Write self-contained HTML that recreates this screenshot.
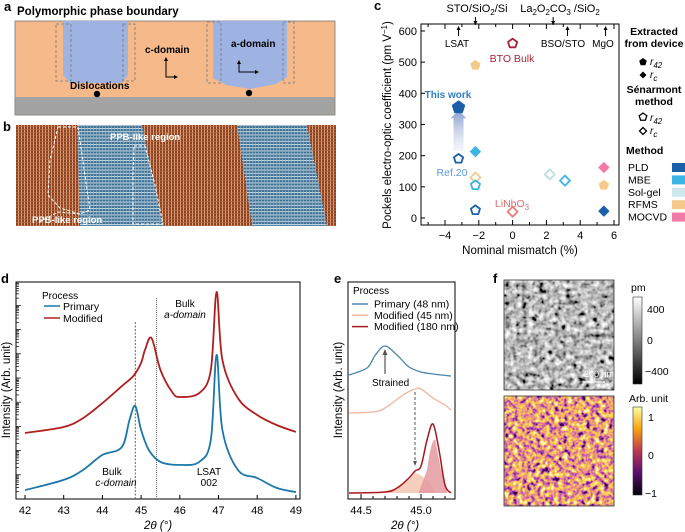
<!DOCTYPE html>
<html><head><meta charset="utf-8"><style>
html,body{margin:0;padding:0;background:#fff}
svg{display:block;font-family:"Liberation Sans",sans-serif}
</style></head><body>
<svg id="fig" width="685" height="532" viewBox="0 0 685 532">
<defs>
  <pattern id="brown" width="3" height="3" patternUnits="userSpaceOnUse"><rect width="3" height="3" fill="#8f4220"/><rect x="0" width="1" height="3" fill="#d9a07a"/><rect y="0" width="3" height="0.6" fill="#b8704a"/></pattern>
  <pattern id="blue" width="3" height="3.2" patternUnits="userSpaceOnUse"><rect width="3" height="3.2" fill="#3f7195"/><rect y="0" width="3" height="1" fill="#c8dbe6"/><rect x="0" width="0.6" height="3.2" fill="#9bb8c8"/></pattern>
  <linearGradient id="arrowgrad" x1="0" y1="1" x2="0" y2="0"><stop offset="0" stop-color="#c8d2ea" stop-opacity="0.2"/><stop offset="1" stop-color="#8a9ed0"/></linearGradient>
  <linearGradient id="graycb" x1="0" y1="0" x2="0" y2="1"><stop offset="0" stop-color="#fff"/><stop offset="1" stop-color="#000"/></linearGradient>
  <linearGradient id="infcb" x1="0" y1="0" x2="0" y2="1"><stop offset="0" stop-color="#fcffa4"/><stop offset="0.25" stop-color="#f8a30c"/><stop offset="0.5" stop-color="#bc3754"/><stop offset="0.75" stop-color="#57106e"/><stop offset="1" stop-color="#000004"/></linearGradient>
  <filter id="grayn" x="0" y="0" width="100%" height="100%"><feTurbulence type="fractalNoise" baseFrequency="0.18" numOctaves="2" seed="3"/><feColorMatrix type="matrix" values="0.33 0.33 0.33 0 0 0.33 0.33 0.33 0 0 0.33 0.33 0.33 0 0 0 0 0 0 1"/><feComponentTransfer><feFuncR type="linear" slope="3" intercept="-1.0"/><feFuncG type="linear" slope="3" intercept="-1.0"/><feFuncB type="linear" slope="3" intercept="-1.0"/></feComponentTransfer></filter>
  <filter id="infn" x="0" y="0" width="100%" height="100%"><feTurbulence type="fractalNoise" baseFrequency="0.22" numOctaves="2" seed="8"/><feColorMatrix type="matrix" values="0.33 0.33 0.33 0 0 0.33 0.33 0.33 0 0 0.33 0.33 0.33 0 0 0 0 0 0 1"/><feComponentTransfer><feFuncR type="linear" slope="3.5" intercept="-1.2"/><feFuncG type="linear" slope="3.5" intercept="-1.2"/><feFuncB type="linear" slope="3.5" intercept="-1.2"/></feComponentTransfer><feComponentTransfer><feFuncR type="table" tableValues="0.05 0.3 0.6 0.85 0.95 0.98 0.99"/><feFuncG type="table" tableValues="0 0.04 0.12 0.3 0.52 0.72 0.95"/><feFuncB type="table" tableValues="0.1 0.42 0.42 0.22 0.06 0.1 0.5"/></feComponentTransfer></filter>
</defs>

<g>
  <text x="4" y="11" font-size="13" font-weight="bold">a</text>
  <text x="17" y="15" font-size="11.5" font-weight="bold">Polymorphic phase boundary</text>
  <rect x="15" y="21" width="320" height="94" fill="#f5b98a" stroke="#777" stroke-width="0.8"/>
  <rect x="15.5" y="97" width="319" height="17.5" fill="#a3a3a3"/>
  <path d="M63 21 H128 V75 L122 83 H70 L63 75 Z" fill="#9fb3e3"/>
  <path d="M213 21 H287 V77 L276 84 L250 89 L226 85 L213 78 Z" fill="#9fb3e3"/>
  <g fill="none" stroke="#777" stroke-dasharray="3,2" stroke-width="0.8">
    <rect x="56" y="24" width="15" height="57"/><rect x="123" y="24" width="12" height="57"/>
    <rect x="207" y="22" width="14" height="61"/><rect x="283" y="22" width="11" height="61"/>
  </g>
  <text x="145" y="53" font-size="10" font-weight="bold">c-domain</text>
  <path d="M166 59 V77 H176" fill="none" stroke="#000" stroke-width="1"/><path d="M164 61 L166 57 L168 61 Z M174 75 L178 77 L174 79Z" fill="#000"/>
  <text x="231" y="47" font-size="10" font-weight="bold">a-domain</text>
  <path d="M239 62 V72 H257" fill="none" stroke="#000" stroke-width="1"/><path d="M237 64 L239 60 L241 64 Z M255 70 L259 72 L255 74Z" fill="#000"/>
  <text x="70" y="89" font-size="10" font-weight="bold">Dislocations</text>
  <circle cx="97" cy="94" r="3.2" fill="#000"/><circle cx="249" cy="93" r="3.2" fill="#000"/>
</g>

<g>
  <text x="3" y="131" font-size="13" font-weight="bold">b</text>
  <rect x="16" y="125" width="320" height="101" fill="url(#brown)"/>
  <path d="M77 125 H142 L163 226 H80 Z" fill="url(#blue)"/>
  <path d="M237 125 H307 L327 226 H252 Z" fill="url(#blue)"/>
  <g fill="none" stroke="#fff" stroke-dasharray="3,2" stroke-width="1">
    <path d="M58 127 H78 L90 210 L80 214 L60 208 L48 195 L50 160 Z"/>
    <path d="M134 146 H145 L155 185 L163 224 H133 L133 175 Z"/>
    <path d="M40 222 L58 212 L80 214"/>
  </g>
  <text x="110" y="140" font-size="9.5" font-weight="bold" fill="#fff">PPB-like region</text>
  <text x="32" y="223" font-size="9.5" font-weight="bold" fill="#fff">PPB-like region</text>
</g>

<g id="pc">
  <text x="374" y="10" font-size="13" font-weight="bold">c</text>
</g>
<g id="pd">
  <text x="1" y="283" font-size="13" font-weight="bold">d</text>
</g>
<g id="pe">
  <text x="334" y="283" font-size="13" font-weight="bold">e</text>
</g>

<g>
  <text x="493" y="283" font-size="13" font-weight="bold">f</text>
  <rect x="504" y="280" width="110" height="110" fill="#888" filter="url(#grayn)"/>
  <rect x="504" y="280" width="110" height="110" fill="none" stroke="#333" stroke-width="0.8"/>
  <line x1="583" y1="382" x2="605" y2="382" stroke="#fff" stroke-width="1.2"/>
  <text x="584" y="377" font-size="9" fill="#fff">200 nm</text>
  <rect x="504" y="396" width="110" height="110" fill="#888" filter="url(#infn)"/>
  <rect x="504" y="396" width="110" height="110" fill="none" stroke="#333" stroke-width="0.8"/>
  <text x="631" y="291" font-size="10.5">pm</text>
  <rect x="633" y="297" width="9" height="87" fill="url(#graycb)" stroke="#333" stroke-width="0.6"/>
  <g font-size="10.5"><text x="647" y="313">400</text><text x="647" y="344">0</text><text x="645" y="375">−400</text></g>
  <text x="629" y="402" font-size="10.5">Arb. unit</text>
  <rect x="633" y="407" width="9" height="88" fill="url(#infcb)" stroke="#333" stroke-width="0.6"/>
  <g font-size="10.5"><text x="648" y="421">1</text><text x="648" y="459">0</text><text x="645" y="497">−1</text></g>
</g>
</svg>

<script>
const NS="http://www.w3.org/2000/svg";
function mk(parent,tag,attrs,text){const e=document.createElementNS(NS,tag);for(const k in attrs)e.setAttribute(k,attrs[k]);if(text!==undefined)e.textContent=text;parent.appendChild(e);return e;}

/* ===== Panel c data ===== */
const cMismatch=[0,-2.2,-3.2,-3.2,-2.2,-2.2,-2.2,-2.2,0,2.2,3.1,5.4,5.4,5.4];
const cPockels=[560,490,355,190,213,130,105,25,20,140,120,162,105,22];
const cShape=["pent","pent","pent","pent","dia","dia","pent","pent","dia","dia","dia","dia","pent","dia"];
const cFilled=[false,true,true,false,true,false,false,false,false,false,false,true,true,true];
const cColor=["#a8233a","#f5c98a","#1a5fa8","#1a5fa8","#3cb4e6","#f5c98a","#3cb4e6","#1a5fa8","#e87c7c","#b9dfe6","#3cb4e6","#f27aa6","#f5c98a","#1a5fa8"];
const cYTicks=[0,100,200,300,400,500,600];
const cXTicks=[-4,-2,0,2,4,6];
const xc=v=>512.6+v*16.9, yc=v=>218-v*0.3117;
const pc=document.getElementById('pc');
function pentPath(cx,cy,r){let d="";for(let i=0;i<5;i++){const a=-Math.PI/2+i*2*Math.PI/5;d+=(i?"L":"M")+(cx+r*Math.cos(a)).toFixed(2)+" "+(cy+r*Math.sin(a)).toFixed(2);}return d+"Z";}
function diaPath(cx,cy,r){return `M${cx} ${cy-r}L${cx+r} ${cy}L${cx} ${cy+r}L${cx-r} ${cy}Z`;}
let ax=mk(pc,'rect',{x:421,y:24,width:198,height:201,fill:'none',stroke:'#000','stroke-width':1});


cYTicks.forEach(t=>{const y=yc(t);mk(pc,'line',{x1:421,y1:y,x2:425,y2:y,stroke:'#000'});
 const tx=mk(pc,'text',{x:417,y:y+4,'font-size':11,'text-anchor':'end'},t);
 
 });
for(let v=-5;v<=6;v++){const x=xc(v);mk(pc,'line',{x1:x,y1:225,x2:x,y2:v%2===0?220:222,stroke:'#000'});mk(pc,'line',{x1:x,y1:24,x2:x,y2:v%2===0?29:27,stroke:'#000'});}
cXTicks.forEach(t=>{const tx=mk(pc,'text',{x:xc(t),y:239,'font-size':11,'text-anchor':'middle'},t<0?'−'+(-t):t);
 
 });
let xl=mk(pc,'text',{x:520,y:254,'font-size':11.5,'text-anchor':'middle'},'Nominal mismatch (%)');


let yl=mk(pc,'text',{x:0,y:0,'font-size':11.5,'text-anchor':'middle',transform:'translate(391,125) rotate(-90)'});
yl.innerHTML='Pockels electro-optic coefficient (pm V<tspan dy="-4" font-size="8">−1</tspan><tspan dy="4">)</tspan>';


mk(pc,'path',{d:`M${xc(-3.2)-5} ${yc(215)} V${yc(320)} H${xc(-3.2)-8} L${xc(-3.2)} ${yc(345)} L${xc(-3.2)+8} ${yc(320)} H${xc(-3.2)+5} V${yc(215)} Z`,fill:'url(#arrowgrad)'});
const subs=[["LSAT",-3.2,"up"],["STO",-2.2,"down"],["LaOC",2.4,"down"],["BSO/STO",3.25,"up"],["MgO",5.5,"up"]];
subs.forEach(s=>{const x=xc(s[1]);if(s[2]==="up"){mk(pc,'line',{x1:x,y1:36,x2:x,y2:27,stroke:'#000'});mk(pc,'path',{d:`M${x-2} 30L${x} 26L${x+2} 30Z`});}else{mk(pc,'line',{x1:x,y1:17,x2:x,y2:25,stroke:'#000'});mk(pc,'path',{d:`M${x-2} 21L${x} 25L${x+2} 21Z`});}});
const lbls=[["LSAT",457,47],["BSO/STO",563,47],["MgO",603,47]];
lbls.forEach(l=>mk(pc,'text',{x:l[1],y:l[2],'font-size':10,'text-anchor':'middle'},l[0]));
let t1=mk(pc,'text',{x:477,y:12,'font-size':11,'text-anchor':'middle'});t1.innerHTML='STO/SiO<tspan dy="3" font-size="8">2</tspan><tspan dy="-3">/Si</tspan>';
let t2=mk(pc,'text',{x:560,y:12,'font-size':11,'text-anchor':'middle'});t2.innerHTML='La<tspan dy="3" font-size="8">2</tspan><tspan dy="-3">O</tspan><tspan dy="3" font-size="8">2</tspan><tspan dy="-3">CO</tspan><tspan dy="3" font-size="8">3</tspan><tspan dy="-3"> /SiO</tspan><tspan dy="3" font-size="8">2</tspan>';
mk(pc,'text',{x:512,y:62,'font-size':10.5,'text-anchor':'middle',fill:'#a8233a'},'BTO Bulk');
mk(pc,'text',{x:448,y:98,'font-size':10,'text-anchor':'middle',fill:'#2f7fc4','font-weight':'bold'},'This work');
mk(pc,'text',{x:452,y:176,'font-size':10.5,'text-anchor':'middle',fill:'#5a9ad8'},'Ref.20');
let ln=mk(pc,'text',{x:512,y:207,'font-size':10.5,'text-anchor':'middle',fill:'#e06c6c'});ln.innerHTML='LiNbO<tspan dy="3" font-size="8">3</tspan>';
cMismatch.forEach((v,i)=>{const cx=xc(v),cy=yc(cPockels[i]);const r=(i===2?6.5:(cShape[i]==="pent"?4.8:5));
 const d=cShape[i]==="pent"?pentPath(cx,cy,r):diaPath(cx,cy,r);
 const p=mk(pc,'path',{d:d,fill:cFilled[i]?cColor[i]:'#fff',stroke:cColor[i],'stroke-width':cFilled[i]?1:1.8,'stroke-linejoin':'round'});
 
 });
const lg=mk(pc,'g',{});


mk(lg,'text',{x:654,y:35,'font-size':10.5,'font-weight':'bold','text-anchor':'middle'},'Extracted');
mk(lg,'text',{x:654,y:47,'font-size':10.5,'font-weight':'bold','text-anchor':'middle'},'from device');
mk(lg,'path',{d:pentPath(643,62,4)});let r1=mk(lg,'text',{x:650,y:65,'font-size':10,'font-style':'italic'});r1.innerHTML='r<tspan dy="3" font-size="8">42</tspan>';
mk(lg,'path',{d:diaPath(643,75,3.5)});let r2=mk(lg,'text',{x:650,y:78,'font-size':10,'font-style':'italic'});r2.innerHTML='r<tspan dy="3" font-size="8">c</tspan>';
mk(lg,'text',{x:654,y:93,'font-size':10.5,'font-weight':'bold','text-anchor':'middle'},'Sénarmont');
mk(lg,'text',{x:654,y:105,'font-size':10.5,'font-weight':'bold','text-anchor':'middle'},'method');
mk(lg,'path',{d:pentPath(643,117,4),fill:'#fff',stroke:'#000','stroke-width':1.3});let r3=mk(lg,'text',{x:650,y:121,'font-size':10,'font-style':'italic'});r3.innerHTML='r<tspan dy="3" font-size="8">42</tspan>';
mk(lg,'path',{d:diaPath(643,131,3.5),fill:'#fff',stroke:'#000','stroke-width':1.3});let r4=mk(lg,'text',{x:650,y:134,'font-size':10,'font-style':'italic'});r4.innerHTML='r<tspan dy="3" font-size="8">c</tspan>';
mk(lg,'text',{x:626,y:154,'font-size':10.5,'font-weight':'bold'},'Method');
const mNames=["PLD","MBE","Sol-gel","RFMS","MOCVD"],mCols=["#1a5fa8","#3cb4e6","#cfe8ee","#f5c98a","#f27aa6"];
mNames.forEach((n,i)=>{const y=167+i*12.4;mk(lg,'text',{x:628,y:y+4,'font-size':10.5},n);mk(lg,'rect',{x:672,y:y-4,width:13,height:9,fill:mCols[i]});});

/* ===== Panel d data ===== */
const dTheta=[42,43,43.5,44,44.5,44.7,44.85,45.0,45.2,45.5,46,46.5,46.8,46.95,47.1,47.5,48,48.5,49];
const dPrimary=[4.1,8.8,13.4,20.3,23.9,36.4,42.9,31.8,22.6,17.1,15.7,17.1,27.2,66.4,31.8,13.4,9.7,5.1,3.2];
const dThetaM=[42,43,43.5,44,44.5,44.8,45.0,45.1,45.27,45.5,45.8,46,46.5,46.8,46.95,47.1,47.5,48,48.5,49];
const dModified=[30.4,33.2,37.3,44.2,52.0,56.7,62.7,68.7,74.2,59.4,49.3,47.0,48.8,59.4,95.4,64.1,46.5,38.7,34.1,30.9];
const dXTicks=[42,43,44,45,46,47,48,49];
const xd=v=>25+(v-42)*38.7, yd=v=>499-v*2.17;
const pd=document.getElementById('pd');
function smooth(xs,ys){let d=`M${xs[0].toFixed(1)} ${ys[0].toFixed(1)}`;for(let i=0;i<xs.length-1;i++){const x0=xs[Math.max(i-1,0)],y0=ys[Math.max(i-1,0)],x1=xs[i],y1=ys[i],x2=xs[i+1],y2=ys[i+1],x3=xs[Math.min(i+2,xs.length-1)],y3=ys[Math.min(i+2,xs.length-1)];
 d+=`C${(x1+(x2-x0)/6).toFixed(1)} ${(y1+(y2-y0)/6).toFixed(1)} ${(x2-(x3-x1)/6).toFixed(1)} ${(y2-(y3-y1)/6).toFixed(1)} ${x2.toFixed(1)} ${y2.toFixed(1)}`;}return d;}
let fd=mk(pd,'rect',{x:16,y:282,width:284,height:217,fill:'none',stroke:'#000'});


for(let k=0;k<9;k++){const base=499-k*24.2;for(let m=1;m<10;m++){const y=base-Math.log10(m)*24.2;if(y<282)break;mk(pd,'line',{x1:16,y1:y,x2:m===1?21:19,y2:y,stroke:'#000','stroke-width':0.7});}}
dXTicks.forEach(t=>{const x=xd(t);mk(pd,'line',{x1:x,y1:499,x2:x,y2:495,stroke:'#000'});
 const tx=mk(pd,'text',{x:x,y:514,'font-size':11,'text-anchor':'middle'},t);
 
 });
mk(pd,'line',{x1:xd(44.85),y1:322,x2:xd(44.85),y2:499,stroke:'#666','stroke-dasharray':'2,1.5'});
mk(pd,'line',{x1:xd(45.4),y1:298,x2:xd(45.4),y2:499,stroke:'#666','stroke-dasharray':'1,1'});
let pm=mk(pd,'path',{d:smooth(dThetaM.map(xd),dModified.map(yd)),fill:'none',stroke:'#b01f1f','stroke-width':1.8});


let pp=mk(pd,'path',{d:smooth(dTheta.map(xd),dPrimary.map(yd)),fill:'none',stroke:'#1b78a8','stroke-width':1.8});


mk(pd,'text',{x:42,y:299,'font-size':10},'Process');
mk(pd,'line',{x1:44,y1:306,x2:60,y2:306,stroke:'#1b78a8','stroke-width':1.5});mk(pd,'text',{x:63,y:310,'font-size':10.5},'Primary');
mk(pd,'line',{x1:44,y1:318,x2:60,y2:318,stroke:'#b01f1f','stroke-width':1.5});mk(pd,'text',{x:63,y:322,'font-size':10.5},'Modified');
mk(pd,'text',{x:185,y:307,'font-size':10,'text-anchor':'middle'},'Bulk');
mk(pd,'text',{x:185,y:318,'font-size':10,'text-anchor':'middle','font-style':'italic'},'a-domain');
mk(pd,'text',{x:112,y:475,'font-size':10,'text-anchor':'middle'},'Bulk');
mk(pd,'text',{x:116,y:486,'font-size':10,'text-anchor':'middle','font-style':'italic'},'c-domain');
mk(pd,'text',{x:209,y:475,'font-size':10,'text-anchor':'middle'},'LSAT');
mk(pd,'text',{x:209,y:486,'font-size':10,'text-anchor':'middle'},'002');
mk(pd,'text',{x:158,y:529,'font-size':11.5,'text-anchor':'middle','font-style':'italic'},'2θ (°)');
mk(pd,'text',{x:0,y:0,'font-size':11.5,'text-anchor':'middle',transform:'translate(10,390) rotate(-90)'},'Intensity (Arb. unit)');

/* ===== Panel e data ===== */
const eTheta=[44.4,44.55,44.62,44.7,44.8,44.9,45.0,45.1,45.25];
const ePrimary=[375,368,355,346,355,367,372,374,376];
const eTheta2=[44.4,44.6,44.7,44.85,44.95,45.0,45.1,45.2,45.25];
const eMod45=[413,412,408,395,389,389,398,405,410];
const eTheta3=[44.4,44.7,44.8,44.9,44.95,45.0,45.05,45.1,45.15,45.2,45.25];
const eMod180=[493,492,488,478,471,466,440,424,450,485,493];
const eXTicks=[44.5,45.0];
const xe=v=>361+(v-44.5)*120;
const pe=document.getElementById('pe');
let fe=mk(pe,'rect',{x:348,y:282,width:107,height:217,fill:'none',stroke:'#000'});


[44.5,44.6,44.7,44.8,44.9,45.0,45.1,45.2].forEach(t=>mk(pe,'line',{x1:xe(t),y1:499,x2:xe(t),y2:eXTicks.includes(t)?494:496,stroke:'#000'}));
eXTicks.forEach(t=>{const tx=mk(pe,'text',{x:xe(t),y:514,'font-size':11,'text-anchor':'middle'},t.toFixed(1));
 
 });
mk(pe,'path',{d:`M${xe(44.6)} 493 Q${xe(44.85)} 490 ${xe(44.95)} 473 Q${xe(45.05)} 476 ${xe(45.12)} 493 Z`,fill:'#f3c7b0',opacity:0.85});
mk(pe,'path',{d:`M${xe(44.98)} 493 L${xe(45.05)} 470 Q${xe(45.09)} 436 ${xe(45.12)} 440 Q${xe(45.16)} 470 ${xe(45.22)} 493 Z`,fill:'#e39aa0',opacity:0.85});
let e1=mk(pe,'path',{d:smooth(eTheta.map(xe),ePrimary),fill:'none',stroke:'#4a86ad','stroke-width':1.3});


let e2=mk(pe,'path',{d:smooth(eTheta2.map(xe),eMod45),fill:'none',stroke:'#f0b59c','stroke-width':1.3});


let e3=mk(pe,'path',{d:smooth(eTheta3.map(xe),eMod180),fill:'none',stroke:'#a8171e','stroke-width':1.5});


mk(pe,'line',{x1:xe(44.95),y1:392,x2:xe(44.95),y2:463,stroke:'#555','stroke-dasharray':'3,2'});
mk(pe,'path',{d:`M${xe(44.95)-2} 461 L${xe(44.95)} 466 L${xe(44.95)+2} 461Z`,fill:'#555'});
mk(pe,'line',{x1:xe(44.7),y1:374,x2:xe(44.7),y2:352,stroke:'#555','stroke-width':1.2});
mk(pe,'path',{d:`M${xe(44.7)-2.5} 355 L${xe(44.7)} 349 L${xe(44.7)+2.5} 355Z`,fill:'#555'});
mk(pe,'text',{x:372,y:386,'font-size':10},'Strained');
mk(pe,'text',{x:353,y:294,'font-size':10},'Process');
[["#4a86ad","Primary  (48 nm)"],["#f0b59c","Modified (45 nm)"],["#a8171e","Modified (180 nm)"]].forEach((l,i)=>{const y=304+i*11.3;mk(pe,'line',{x1:352,y1:y,x2:368,y2:y,stroke:l[0],'stroke-width':1.5});mk(pe,'text',{x:374,y:y+3.5,'font-size':10.5},l[1]);});
mk(pe,'text',{x:405,y:529,'font-size':11.5,'text-anchor':'middle','font-style':'italic'},'2θ (°)');
mk(pe,'text',{x:0,y:0,'font-size':11.5,'text-anchor':'middle',transform:'translate(342,390) rotate(-90)'},'Intensity (Arb. unit)');
</script>
</body></html>
